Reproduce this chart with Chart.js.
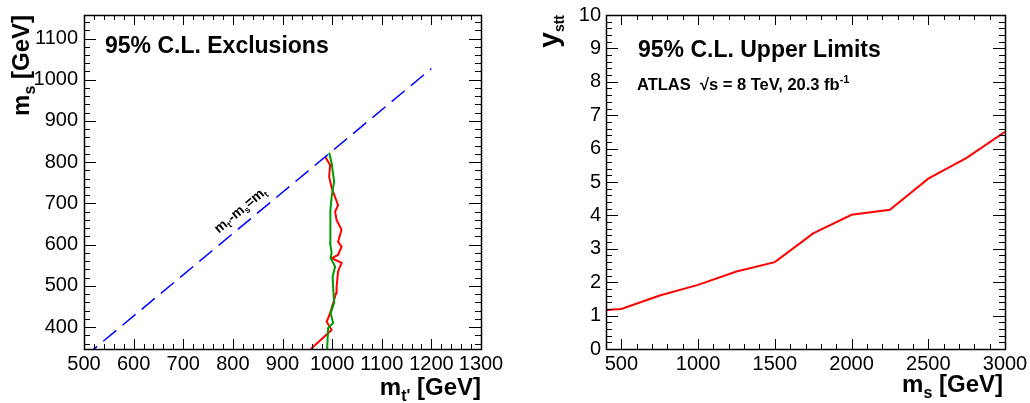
<!DOCTYPE html>
<html>
<head>
<meta charset="utf-8">
<script src="https://cdn.jsdelivr.net/npm/chart.js@4"></script>
<style>
html,body{margin:0;padding:0;background:#fff;}
#wrap{position:relative;width:1030px;height:403px;overflow:hidden;}
canvas{position:absolute;top:0;}
#c1{left:0;}
#c2{left:515px;}
</style>
</head>
<body>
<div id="wrap">
<canvas id="c1" width="515" height="403"></canvas>
<canvas id="c2" width="515" height="403"></canvas>
</div>
<script>
// ---------- data ----------
const leftXTicks = [500, 600, 700, 800, 900, 1000, 1100, 1200, 1300];
const leftYTicks = [400, 500, 600, 700, 800, 900, 1000, 1100];
const rightXTicks = [500, 1000, 1500, 2000, 2500, 3000];
const rightYTicks = [0, 1, 2, 3, 4, 5, 6, 7, 8, 9, 10];

// kinematic boundary m_t' - m_s = m_t
const diagMtp = [500, 1200];
const diagMs  = [327, 1027];

// observed (red) and expected (green) exclusion contours
const redMtp = [957, 999, 989, 996, 1002, 1008, 1009, 1012, 1019, 999, 1012, 1019, 1012, 1019, 1009, 1006, 1012, 999, 994, 996, 986];
const redMs  = [347, 393, 413, 434, 458, 482, 498, 535, 556, 567, 575, 595, 607, 636, 660, 680, 696, 738, 765, 793, 813];
const greenMtp = [990, 992, 1002, 997, 1004, 1002, 1001, 1006, 997, 999, 996, 997, 996, 999, 1004, 999, 994];
const greenMs  = [347, 398, 410, 434, 459, 498, 522, 547, 568, 580, 604, 653, 684, 716, 753, 798, 823];

// upper limits on y_stt
const msPoints  = [400, 500, 750, 1000, 1250, 1500, 1750, 2000, 2250, 2500, 2750, 3000];
const yLimits   = [1.17, 1.2, 1.6, 1.92, 2.32, 2.6, 3.46, 4.02, 4.17, 5.1, 5.72, 6.5];

// ---------- helpers ----------
const FAM = '"Liberation Sans", Arial, Helvetica, sans-serif';
const zip = (xs, ys) => xs.map((x, i) => ({x: x, y: ys[i]}));

function drawParts(ctx, parts, x, y, angle, align) {
  ctx.save();
  ctx.translate(x, y);
  ctx.rotate(angle);
  ctx.fillStyle = '#000';
  ctx.textBaseline = 'alphabetic';
  ctx.textAlign = 'left';
  let total = 0;
  parts.forEach(p => { ctx.font = p.f; p.w = ctx.measureText(p.t).width; total += p.w; });
  let cx = align === 'right' ? -total : 0;
  parts.forEach(p => { ctx.font = p.f; ctx.fillText(p.t, cx, p.dy || 0); cx += p.w; });
  ctx.restore();
}

function drawFrameTicks(chart, cfg) {
  const ctx = chart.ctx, a = chart.chartArea;
  const xs = chart.scales.x, ys = chart.scales.y;
  ctx.save();
  ctx.setLineDash([]);
  ctx.strokeStyle = '#000';
  ctx.lineWidth = 1;
  // x-axis ticks (bottom and mirrored top)
  const n0x = Math.ceil(xs.min / cfg.xMinor - 1e-9), n1x = Math.floor(xs.max / cfg.xMinor + 1e-9);
  ctx.beginPath();
  for (let n = n0x; n <= n1x; n++) {
    const v = n * cfg.xMinor;
    const isMajor = cfg.xMajorList.some(m => Math.abs(m - v) < 1e-6);
    const L = isMajor ? cfg.xMajLen : cfg.xMinLen;
    const px = Math.round(xs.getPixelForValue(v)) + 0.5;
    ctx.moveTo(px, a.bottom); ctx.lineTo(px, a.bottom - L);
    ctx.moveTo(px, a.top); ctx.lineTo(px, a.top + L);
  }
  ctx.stroke();
  // y-axis ticks (left and mirrored right)
  const n0y = Math.ceil(ys.min / cfg.yMinor - 1e-9), n1y = Math.floor(ys.max / cfg.yMinor + 1e-9);
  ctx.beginPath();
  for (let n = n0y; n <= n1y; n++) {
    const v = Math.round(n * cfg.yMinor * 1000) / 1000;
    const isMajor = cfg.yMajorList.some(m => Math.abs(m - v) < 1e-6);
    const L = isMajor ? cfg.yMajLen : cfg.yMinLen;
    const py = Math.round(ys.getPixelForValue(v)) + 0.5;
    ctx.moveTo(a.left, py); ctx.lineTo(a.left + L, py);
    ctx.moveTo(a.right, py); ctx.lineTo(a.right - L, py);
  }
  ctx.stroke();
  ctx.lineWidth = 1.5;
  ctx.strokeRect(Math.round(a.left) + 0.5, Math.round(a.top) + 0.5, Math.round(a.right - a.left), Math.round(a.bottom - a.top));
  ctx.restore();
}

const tickFont = {family: FAM, size: 20};

// ---------- left chart ----------
new Chart(document.getElementById('c1'), {
  type: 'scatter',
  data: {
    datasets: [
      {data: zip(diagMtp, diagMs), showLine: true, borderColor: '#0000ff', borderWidth: 1.5, borderDash: [17, 8], pointRadius: 0, clip: 0},
      {data: zip(greenMtp, greenMs), showLine: true, borderColor: '#009a00', borderWidth: 2, pointRadius: 0, clip: 0},
      {data: zip(redMtp, redMs), showLine: true, borderColor: '#ff0000', borderWidth: 2, pointRadius: 0, clip: 0}
    ]
  },
  options: {
    responsive: false, animation: false,
    layout: {padding: {left: 0, top: 15, right: 34, bottom: 0}},
    plugins: {legend: {display: false}, tooltip: {enabled: false}},
    scales: {
      x: {
        type: 'linear', min: 500, max: 1300,
        grid: {display: false, drawTicks: false}, border: {display: false},
        ticks: {font: tickFont, color: '#000', maxRotation: 0, autoSkip: false, padding: 3, callback: v => String(v)},
        afterBuildTicks: s => { s.ticks = leftXTicks.map(v => ({value: v})); },
        afterFit: s => { s.height = 54; s.paddingLeft = 0; s.paddingRight = 0; }
      },
      y: {
        type: 'linear', min: 347, max: 1157,
        grid: {display: false, drawTicks: false}, border: {display: false},
        ticks: {font: tickFont, color: '#000', autoSkip: false, padding: 6, callback: v => String(v)},
        afterBuildTicks: s => { s.ticks = leftYTicks.map(v => ({value: v})); },
        afterFit: s => { s.width = 84; s.paddingTop = 0; s.paddingBottom = 0; }
      }
    }
  },
  plugins: [{
    id: 'rootStyleLeft',
    afterDraw(chart) {
      drawFrameTicks(chart, {xMinor: 20, yMinor: 20, xMajorList: leftXTicks, yMajorList: leftYTicks, xMajLen: 10, xMinLen: 5, yMajLen: 12, yMinLen: 6});
      const ctx = chart.ctx;
      const B = s => 'bold ' + s + 'px ' + FAM;
      drawParts(ctx, [{t: '95% C.L. Exclusions', f: B(23)}], 105, 53, 0, 'left');
      // axis titles
      drawParts(ctx, [{t: 'm', f: B(24)}, {t: "t'", f: B(16), dy: 6}, {t: ' [GeV]', f: B(24)}], 481, 395, 0, 'right');
      drawParts(ctx, [{t: 'm', f: B(24)}, {t: 's', f: B(16), dy: 6}, {t: ' [GeV]', f: B(24)}], 29, 15, -Math.PI / 2, 'right');
      // label along the diagonal
      const xs = chart.scales.x, ys = chart.scales.y;
      const p1x = xs.getPixelForValue(diagMtp[0]), p1y = ys.getPixelForValue(diagMs[0]);
      const p2x = xs.getPixelForValue(diagMtp[1]), p2y = ys.getPixelForValue(diagMs[1]);
      const ang = Math.atan2(p2y - p1y, p2x - p1x);
      const at = 783;
      const ax = xs.getPixelForValue(at), ay = ys.getPixelForValue(at - (diagMtp[0] - diagMs[0]));
      const off = 9;
      const nx = Math.sin(ang) * off, ny = -Math.cos(ang) * off;
      drawParts(ctx, [
        {t: 'm', f: B(14)}, {t: "t'", f: B(9), dy: 3},
        {t: '-m', f: B(14)}, {t: 's', f: B(9), dy: 3},
        {t: '=m', f: B(14)}, {t: 't', f: B(9), dy: 3}
      ], ax + nx, ay + ny, ang, 'left');
    }
  }]
});

// ---------- right chart ----------
new Chart(document.getElementById('c2'), {
  type: 'scatter',
  data: {
    datasets: [
      {data: zip(msPoints, yLimits), showLine: true, borderColor: '#ff0000', borderWidth: 2, pointRadius: 0, clip: 0}
    ]
  },
  options: {
    responsive: false, animation: false,
    layout: {padding: {left: 0, top: 15, right: 25, bottom: 0}},
    plugins: {legend: {display: false}, tooltip: {enabled: false}},
    scales: {
      x: {
        type: 'linear', min: 400, max: 3000,
        grid: {display: false, drawTicks: false}, border: {display: false},
        ticks: {font: tickFont, color: '#000', maxRotation: 0, autoSkip: false, padding: 3, callback: v => String(v)},
        afterBuildTicks: s => { s.ticks = rightXTicks.map(v => ({value: v})); },
        afterFit: s => { s.height = 54; s.paddingLeft = 0; s.paddingRight = 0; }
      },
      y: {
        type: 'linear', min: 0, max: 10,
        grid: {display: false, drawTicks: false}, border: {display: false},
        ticks: {font: tickFont, color: '#000', autoSkip: false, padding: 5, callback: v => String(v)},
        afterBuildTicks: s => { s.ticks = rightYTicks.map(v => ({value: v})); },
        afterFit: s => { s.width = 91; s.paddingTop = 0; s.paddingBottom = 0; }
      }
    }
  },
  plugins: [{
    id: 'rootStyleRight',
    afterDraw(chart) {
      drawFrameTicks(chart, {xMinor: 100, yMinor: 0.2, xMajorList: rightXTicks, yMajorList: rightYTicks, xMajLen: 10, xMinLen: 5, yMajLen: 12, yMinLen: 6});
      const ctx = chart.ctx;
      const B = s => 'bold ' + s + 'px ' + FAM;
      drawParts(ctx, [{t: '95% C.L. Upper Limits', f: B(23)}], 123, 57, 0, 'left');
      drawParts(ctx, [
        {t: 'ATLAS  ', f: B(16.5)}, {t: '\u221As = 8 TeV, 20.3 fb', f: B(16.5)}, {t: '-1', f: B(11), dy: -7}
      ], 122, 90, 0, 'left');
      drawParts(ctx, [{t: 'm', f: B(24)}, {t: 's', f: B(16), dy: 6}, {t: ' [GeV]', f: B(24)}], 488, 392, 0, 'right');
      drawParts(ctx, [{t: 'y', f: B(28)}, {t: 'stt', f: B(14), dy: 6}], 43, 15, -Math.PI / 2, 'right');
    }
  }]
});
</script>
</body>
</html>
